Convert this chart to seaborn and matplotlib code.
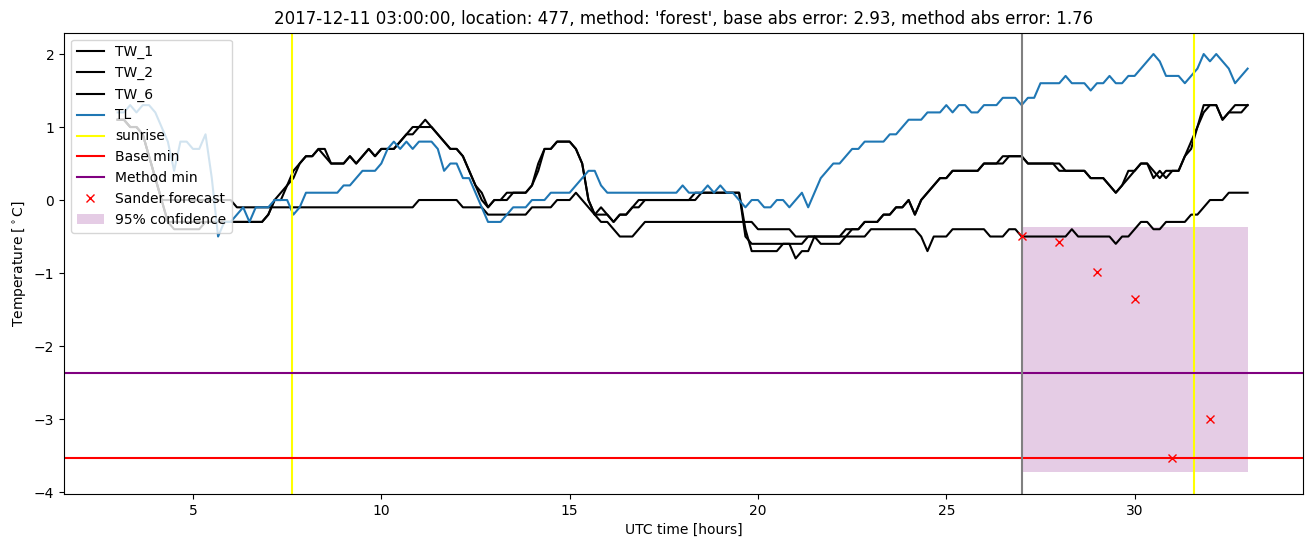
import numpy as np
import matplotlib
matplotlib.use("Agg")
import matplotlib.pyplot as plt
import seaborn as sns

# time axis: 10-minute samples from 03:00 (hour 3) to hour 33
time_h = np.round(3.0 + np.arange(181) / 6.0, 4)

tw_1 = [1.1, 1.1, 1.0, 1.0, 0.9, 0.6, 0.3, 0.0, -0.3, -0.4,
        -0.4, -0.4, -0.4, -0.4, -0.3, -0.3, -0.3, -0.3, -0.3, -0.3,
        -0.3, -0.3, -0.3, -0.3, -0.2, 0.0, 0.1, 0.2, 0.4, 0.5,
        0.6, 0.6, 0.7, 0.7, 0.5, 0.5, 0.5, 0.6, 0.5, 0.6,
        0.7, 0.6, 0.7, 0.7, 0.7, 0.8, 0.9, 0.9, 1.0, 1.1,
        1.0, 0.9, 0.8, 0.7, 0.7, 0.6, 0.4, 0.2, 0.0, -0.1,
        0.0, 0.0, 0.0, 0.1, 0.1, 0.1, 0.2, 0.4, 0.7, 0.7,
        0.8, 0.8, 0.8, 0.7, 0.5, 0.0, -0.2, -0.1, -0.2, -0.3,
        -0.2, -0.2, -0.1, 0.0, 0.0, 0.0, 0.0, 0.0, 0.0, 0.0,
        0.0, 0.0, 0.0, 0.1, 0.1, 0.1, 0.1, 0.1, 0.1, 0.1,
        -0.5, -0.6, -0.6, -0.6, -0.6, -0.6, -0.6, -0.6, -0.6, -0.6,
        -0.5, -0.5, -0.5, -0.5, -0.5, -0.5, -0.4, -0.4, -0.4, -0.3,
        -0.3, -0.3, -0.2, -0.2, -0.1, -0.1, 0.0, -0.2, 0.0, 0.1,
        0.2, 0.3, 0.3, 0.4, 0.4, 0.4, 0.4, 0.4, 0.5, 0.5,
        0.5, 0.6, 0.6, 0.6, 0.6, 0.5, 0.5, 0.5, 0.5, 0.5,
        0.4, 0.4, 0.4, 0.4, 0.4, 0.3, 0.3, 0.3, 0.2, 0.1,
        0.2, 0.4, 0.4, 0.5, 0.5, 0.4, 0.3, 0.4, 0.4, 0.4,
        0.6, 0.8, 1.0, 1.3, 1.3, 1.3, 1.1, 1.2, 1.3, 1.3,
        1.3]

tw_2 = [1.1, 1.1, 1.0, 1.0, 0.9, 0.6, 0.3, 0.0, -0.3, -0.3,
        -0.3, -0.3, -0.3, -0.3, -0.3, -0.3, -0.3, -0.3, -0.3, -0.3,
        -0.3, -0.3, -0.3, -0.3, -0.2, 0.0, 0.0, 0.2, 0.3, 0.5,
        0.6, 0.6, 0.7, 0.6, 0.5, 0.5, 0.5, 0.6, 0.5, 0.6,
        0.7, 0.6, 0.7, 0.7, 0.7, 0.8, 0.9, 1.0, 1.0, 1.0,
        1.0, 0.9, 0.8, 0.7, 0.7, 0.6, 0.4, 0.2, 0.1, -0.1,
        0.0, 0.0, 0.1, 0.1, 0.1, 0.1, 0.2, 0.5, 0.7, 0.7,
        0.8, 0.8, 0.8, 0.7, 0.5, 0.0, -0.2, -0.2, -0.2, -0.3,
        -0.2, -0.2, -0.1, -0.1, 0.0, 0.0, 0.0, 0.0, 0.0, 0.0,
        0.0, 0.0, 0.1, 0.1, 0.1, 0.1, 0.1, 0.1, 0.1, 0.1,
        -0.4, -0.7, -0.7, -0.7, -0.7, -0.7, -0.6, -0.6, -0.8, -0.7,
        -0.7, -0.5, -0.6, -0.6, -0.6, -0.6, -0.5, -0.4, -0.4, -0.3,
        -0.3, -0.3, -0.2, -0.2, -0.1, -0.1, 0.0, -0.2, 0.0, 0.1,
        0.2, 0.3, 0.3, 0.4, 0.4, 0.4, 0.4, 0.4, 0.5, 0.5,
        0.5, 0.5, 0.6, 0.6, 0.6, 0.5, 0.5, 0.5, 0.5, 0.5,
        0.5, 0.4, 0.4, 0.4, 0.4, 0.3, 0.3, 0.3, 0.2, 0.1,
        0.2, 0.3, 0.4, 0.5, 0.5, 0.3, 0.4, 0.3, 0.4, 0.4,
        0.6, 0.7, 1.0, 1.2, 1.3, 1.3, 1.1, 1.2, 1.2, 1.2,
        1.3]

tw_6 = [1.1, 1.1, 1.0, 1.0, 0.9, 0.6, 0.3, 0.0, 0.0, 0.0,
        0.0, 0.0, 0.0, 0.0, 0.0, 0.0, 0.0, 0.0, 0.0, -0.1,
        -0.1, -0.1, -0.1, -0.1, -0.1, -0.1, -0.1, -0.1, -0.1, -0.1,
        -0.1, -0.1, -0.1, -0.1, -0.1, -0.1, -0.1, -0.1, -0.1, -0.1,
        -0.1, -0.1, -0.1, -0.1, -0.1, -0.1, -0.1, -0.1, 0.0, 0.0,
        0.0, 0.0, 0.0, 0.0, 0.0, -0.1, -0.1, -0.1, -0.1, -0.2,
        -0.2, -0.2, -0.2, -0.2, -0.2, -0.2, -0.1, -0.1, -0.1, -0.1,
        0.0, 0.0, 0.0, 0.1, 0.0, -0.1, -0.2, -0.3, -0.3, -0.4,
        -0.5, -0.5, -0.5, -0.4, -0.3, -0.3, -0.3, -0.3, -0.3, -0.3,
        -0.3, -0.3, -0.3, -0.3, -0.3, -0.3, -0.3, -0.3, -0.3, -0.3,
        -0.3, -0.3, -0.4, -0.4, -0.4, -0.4, -0.4, -0.4, -0.5, -0.5,
        -0.5, -0.5, -0.5, -0.5, -0.5, -0.5, -0.5, -0.5, -0.5, -0.5,
        -0.4, -0.4, -0.4, -0.4, -0.4, -0.4, -0.4, -0.4, -0.5, -0.7,
        -0.5, -0.5, -0.5, -0.4, -0.4, -0.4, -0.4, -0.4, -0.4, -0.5,
        -0.5, -0.5, -0.4, -0.4, -0.5, -0.5, -0.5, -0.5, -0.5, -0.5,
        -0.5, -0.5, -0.4, -0.5, -0.5, -0.5, -0.5, -0.5, -0.5, -0.6,
        -0.5, -0.5, -0.4, -0.3, -0.3, -0.4, -0.4, -0.3, -0.3, -0.3,
        -0.3, -0.2, -0.2, -0.1, 0.0, 0.0, 0.0, 0.1, 0.1, 0.1,
        0.1]

tl = [1.2, 1.2, 1.3, 1.2, 1.3, 1.3, 1.2, 1.0, 0.8, 0.4,
      0.8, 0.8, 0.7, 0.7, 0.9, 0.3, -0.5, -0.3, -0.3, -0.2,
      -0.1, -0.3, -0.1, -0.1, -0.1, 0.0, 0.0, 0.0, -0.2, -0.1,
      0.1, 0.1, 0.1, 0.1, 0.1, 0.1, 0.2, 0.2, 0.3, 0.4,
      0.4, 0.4, 0.5, 0.7, 0.8, 0.7, 0.8, 0.7, 0.8, 0.8,
      0.8, 0.7, 0.4, 0.5, 0.5, 0.3, 0.3, 0.1, -0.1, -0.3,
      -0.3, -0.3, -0.2, -0.1, -0.1, -0.1, 0.0, 0.0, 0.0, 0.1,
      0.1, 0.1, 0.1, 0.2, 0.3, 0.4, 0.4, 0.2, 0.1, 0.1,
      0.1, 0.1, 0.1, 0.1, 0.1, 0.1, 0.1, 0.1, 0.1, 0.1,
      0.2, 0.1, 0.1, 0.1, 0.2, 0.1, 0.2, 0.1, 0.1, 0.0,
      -0.1, 0.0, 0.0, -0.1, -0.1, 0.0, 0.0, -0.1, 0.0, 0.1,
      -0.1, 0.1, 0.3, 0.4, 0.5, 0.5, 0.6, 0.7, 0.7, 0.8,
      0.8, 0.8, 0.8, 0.9, 0.9, 1.0, 1.1, 1.1, 1.1, 1.2,
      1.2, 1.2, 1.3, 1.2, 1.3, 1.3, 1.2, 1.2, 1.3, 1.3,
      1.3, 1.4, 1.4, 1.4, 1.3, 1.4, 1.4, 1.6, 1.6, 1.6,
      1.6, 1.7, 1.6, 1.6, 1.6, 1.5, 1.6, 1.6, 1.7, 1.6,
      1.6, 1.7, 1.7, 1.8, 1.9, 2.0, 1.9, 1.7, 1.7, 1.7,
      1.6, 1.7, 1.8, 2.0, 1.9, 2.0, 1.9, 1.8, 1.6, 1.7,
      1.8]

sunrise_h = [7.62, 31.58]
forecast_start_h = 27.0
base_min = -3.53
method_min = -2.37
forecast_h = [27, 28, 29, 30, 31, 32]
forecast_vals = [-0.49, -0.58, -0.99, -1.36, -3.53, -3.00]
conf_h = [27.0, 33.0]
conf_low = [-3.73, -3.73]
conf_high = [-0.37, -0.37]

title = ("2017-12-11 03:00:00, location: 477, method: 'forest', "
         "base abs error: 2.93, method abs error: 1.76")

for arr in (tw_1, tw_2, tw_6, tl):
    assert len(arr) == len(time_h), len(arr)

fig = plt.figure(figsize=(13.13, 5.47), dpi=100)
ax = fig.add_axes([64 / 1313, 1 - 494 / 547, 1239 / 1313, (494 - 32.7) / 547])

sns.lineplot(x=time_h, y=tw_1, color="black", label="TW_1", ax=ax)
sns.lineplot(x=time_h, y=tw_2, color="black", label="TW_2", ax=ax)
sns.lineplot(x=time_h, y=tw_6, color="black", label="TW_6", ax=ax)
sns.lineplot(x=time_h, y=tl, color="tab:blue", label="TL", ax=ax)

ax.axvline(sunrise_h[0], color="yellow", label="sunrise")
ax.axvline(sunrise_h[1], color="yellow")
ax.axhline(base_min, color="red", label="Base min")
ax.axhline(method_min, color="purple", label="Method min")
ax.axvline(forecast_start_h, color="gray")

sns.lineplot(x=forecast_h, y=forecast_vals, color="red", marker="x",
             linestyle="", markersize=6, markeredgecolor="red",
             markeredgewidth=1.0, label="Sander forecast", ax=ax)
ax.fill_between(conf_h, conf_low, conf_high, color="purple", alpha=0.2,
                linewidth=0, label="95% confidence")

ax.set_xlim(1.576, 34.47)
ax.set_ylim(-4.027, 2.292)
ax.set_title(title)
ax.set_xlabel("UTC time [hours]")
ax.set_ylabel(r"Temperature [$^\circ$C]")
ax.legend(loc="upper left")

fig.savefig("out.png", dpi=100)
